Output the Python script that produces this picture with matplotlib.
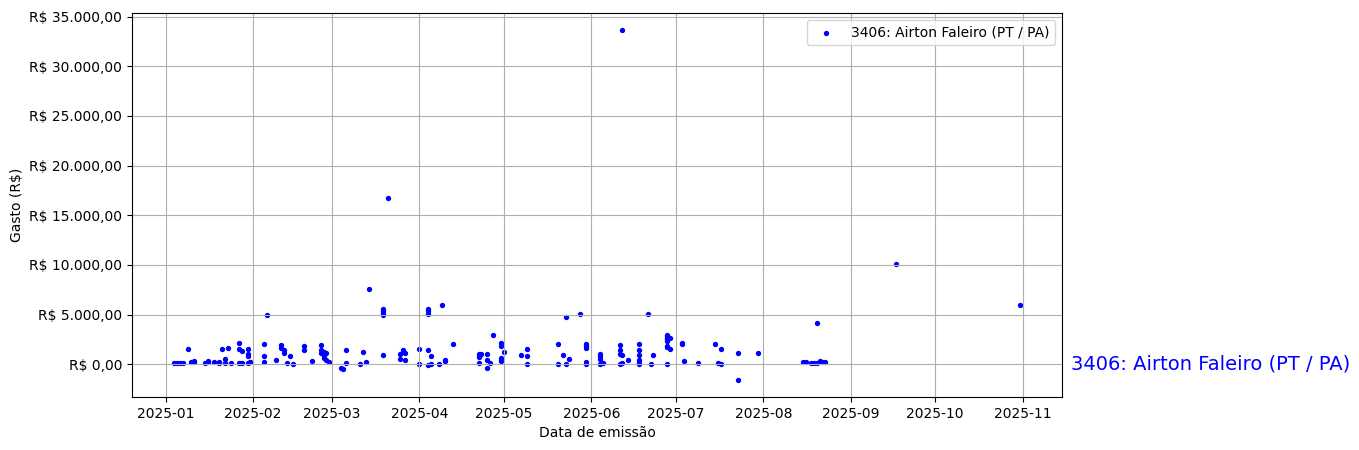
import matplotlib
matplotlib.use("Agg")
import matplotlib.pyplot as plt
import matplotlib.ticker as mticker
import matplotlib.dates as mdates
import matplotlib.transforms as mtransforms
import pandas as pd

label = "3406: Airton Faleiro (PT / PA)"

dates = [
    "2025-01-04", "2025-01-05", "2025-01-06", "2025-01-07", "2025-01-09", "2025-01-10",
    "2025-01-11", "2025-01-11",
    "2025-01-15", "2025-01-16", "2025-01-16", "2025-01-18", "2025-01-20", "2025-01-20",
    "2025-01-21", "2025-01-22", "2025-01-22", "2025-01-23", "2025-01-24", "2025-01-27",
    "2025-01-28", "2025-01-27", "2025-01-27", "2025-01-28", "2025-01-30", "2025-01-30",
    "2025-01-30", "2025-01-30", "2025-01-31", "2025-01-31",
    "2025-02-05", "2025-02-05", "2025-02-05", "2025-02-06", "2025-02-09", "2025-02-11",
    "2025-02-11", "2025-02-12", "2025-02-12", "2025-02-13", "2025-02-14", "2025-02-15",
    "2025-02-19", "2025-02-19", "2025-02-22", "2025-02-25", "2025-02-25", "2025-02-25",
    "2025-02-26", "2025-02-26", "2025-02-27", "2025-02-27", "2025-02-26", "2025-02-28",
    "2025-03-04", "2025-03-05", "2025-03-06", "2025-03-06", "2025-03-11", "2025-03-12",
    "2025-03-13", "2025-03-14", "2025-03-19", "2025-03-19", "2025-03-19", "2025-03-19",
    "2025-03-19", "2025-03-21", "2025-03-26", "2025-03-26", "2025-03-25", "2025-03-25",
    "2025-03-27", "2025-03-27",
    "2025-04-01", "2025-04-01", "2025-04-04", "2025-04-04", "2025-04-04", "2025-04-04",
    "2025-04-04", "2025-04-05", "2025-04-05", "2025-04-08", "2025-04-09", "2025-04-10",
    "2025-04-10", "2025-04-13", "2025-04-22", "2025-04-22", "2025-04-22", "2025-04-23",
    "2025-04-22", "2025-04-25", "2025-04-25", "2025-04-25", "2025-04-26", "2025-04-27",
    "2025-04-30", "2025-04-30", "2025-05-01", "2025-04-30", "2025-04-30", "2025-04-30",
    "2025-05-07", "2025-05-09", "2025-05-09", "2025-05-09", "2025-05-20", "2025-05-20",
    "2025-05-22", "2025-05-23", "2025-05-23", "2025-05-24", "2025-05-28", "2025-05-30",
    "2025-05-30", "2025-05-30", "2025-05-30", "2025-05-30",
    "2025-06-04", "2025-06-04", "2025-06-04", "2025-06-04", "2025-06-05", "2025-06-11",
    "2025-06-11", "2025-06-11", "2025-06-11", "2025-06-12", "2025-06-12", "2025-06-12",
    "2025-06-14", "2025-06-18", "2025-06-18", "2025-06-18", "2025-06-18", "2025-06-18",
    "2025-06-18", "2025-06-21", "2025-06-22", "2025-06-23", "2025-06-28", "2025-06-28",
    "2025-06-28", "2025-06-28", "2025-06-28", "2025-06-28", "2025-06-29", "2025-06-28",
    "2025-06-28", "2025-06-29",
    "2025-07-03", "2025-07-03", "2025-07-04", "2025-07-09", "2025-07-15", "2025-07-17",
    "2025-07-17", "2025-07-16", "2025-07-23", "2025-07-23", "2025-07-30",
    "2025-08-15", "2025-08-16", "2025-08-18", "2025-08-19", "2025-08-20", "2025-08-20",
    "2025-08-21", "2025-08-22", "2025-08-23",
    "2025-09-17", "2025-10-31",
]

values = [
    150, 120, 100, 110, 1500, 200,
    350, 200,
    170, 230, 300, 230, 250, 150,
    1500, 530, 150, 1680, 170, 150,
    120, 2180, 1500, 1340, 1500, 1080,
    840, 170, 200, 250,
    2010, 800, 230, 5000, 400, 1910,
    1680, 1400, 1140, 170, 800, 70,
    1810, 1470, 330, 1910, 1400, 1140,
    1240, 800, 1170, 470, 670, 230,
    -330, -430, 1470, 130, 70, 1240,
    230, 7620, 5600, 5360, 5200, 4930,
    900, 16770, 1470, 1240, 1000, 570,
    1170, 470,
    1580, 70, 5530, 5330, 5100, 1470,
    -30, 800, 70, 70, 6000, 330,
    470, 2010, 1080, 840, 130, 1000,
    740, 1000, 470, -330, 130, 2990,
    2180, 1810, 1240, 670, 330, 470,
    970, 1580, 800, 70, 2080, 70,
    900, 4760, 70, 570, 5100, 2010,
    1810, 1640, 70, 230,
    1080, 800, 500, 70, 170, 1910,
    1470, 1080, 70, 33600, 970, 130,
    400, 2080, 1470, 970, 470, 170,
    70, 5030, 70, 900, 2920, 2820,
    2580, 2340, 70, 1810, 2680, 1740,
    2680, 1580,
    2180, 2080, 300, 170, 2080, 1580,
    70, 170, 1170, -1540, 1170,
    200, 200, 150, 120, 120, 4200,
    300, 200, 200,
    10100, 6000,
]

x = pd.to_datetime(dates)

fig = plt.figure(figsize=(13.59, 4.5), dpi=100)
ax = fig.add_axes([0.0971, 0.1178, 0.6844, 0.8533])

ax.scatter(x, values, s=8, color="blue", label=label)
ax.grid(True)

ax.xaxis.set_major_locator(mdates.MonthLocator())
ax.xaxis.set_major_formatter(mdates.DateFormatter("%Y-%m"))


def brl(v, pos):
    s = f"{v:,.2f}"
    s = s.replace(",", "X").replace(".", ",").replace("X", ".")
    return f"R$ {s}"


ax.yaxis.set_major_formatter(mticker.FuncFormatter(brl))
ax.set_xlabel("Data de emissão")
ax.set_ylabel("Gasto (R$)")
ax.legend(loc="upper right")

trans = mtransforms.blended_transform_factory(ax.transAxes, ax.transData)
ax.text(1.01, 0, label, transform=trans, color="blue", fontsize=14, va="center", ha="left")

fig.savefig("out.png", dpi=100)
